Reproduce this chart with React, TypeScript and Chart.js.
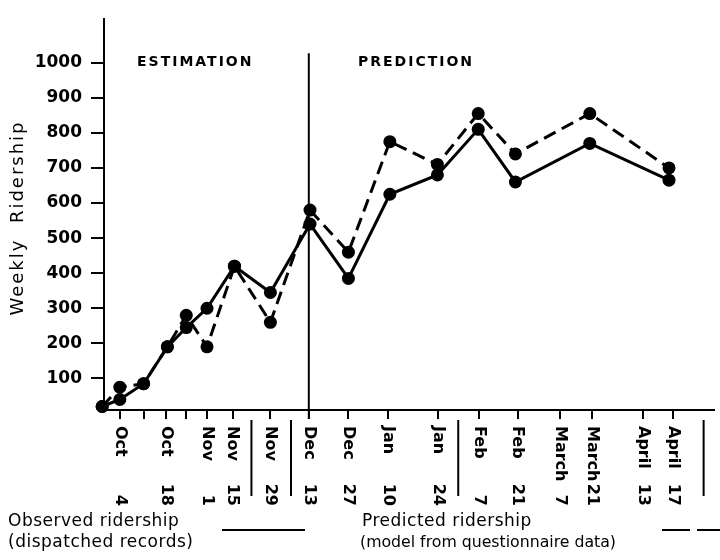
import React, { useEffect, useRef } from 'react';
import { Chart, registerables } from 'chart.js';

Chart.register(...registerables);

// ---- data ----
const tickMonths = ['Oct', 'Oct', 'Oct', 'Oct', 'Nov', 'Nov', 'Nov', 'Dec', 'Dec', 'Jan', 'Jan', 'Feb', 'Feb', 'March', 'March', 'April', 'April'];
const tickDays = ['4', '11', '18', '25', '1', '15', '29', '13', '27', '10', '24', '7', '21', '7', '21', '13', '17'];
const tickLabeled = [true, false, true, false, true, true, true, true, true, true, true, true, true, true, true, true, true];
// positions of the weekly ticks along the drawn (irregular) time axis, axis units 0-100
const tickPos = [2.68, 6.49, 10.23, 13.47, 16.88, 21.1, 27.27, 33.6, 40.1, 46.59, 54.87, 61.53, 67.86, 74.84, 80.03, 88.47, 93.34];
// group separators under the axis (axis units)
const separatorPos = [24.19, 30.68, 58.12, 98.38];
// the estimation / prediction boundary (Dec 13)
const boundaryPos = 33.6;

const pointPos = [-0.3, 2.6, 6.5, 10.4, 13.5, 16.9, 21.4, 27.3, 33.8, 40.1, 46.9, 54.7, 61.4, 67.5, 79.7, 92.7];
const observed = [20, 40, 85, 190, 245, 300, 420, 345, 540, 385, 625, 680, 810, 660, 770, 665];
const predicted = [20, 75, 85, 190, 280, 190, 420, 260, 580, 460, 775, 710, 855, 740, 855, 700];

const yTicks = [100, 200, 300, 400, 500, 600, 700, 800, 900, 1000];

const yTitle = 'Weekly  Ridership';
const regionLeft = 'ESTIMATION';
const regionRight = 'PREDICTION';
const legendObserved = ['Observed ridership', '(dispatched records)'];
const legendPredicted = ['Predicted ridership', '(model from questionnaire data)'];

const FONT = '"DejaVu Sans", sans-serif';

const overlayPlugin = {
  id: 'overlay',
  afterDraw(chart: any) {
    const ctx = chart.ctx as CanvasRenderingContext2D;
    const xs = chart.scales.x;
    const ys = chart.scales.y;
    const bottom = chart.chartArea.bottom;
    ctx.save();
    ctx.fillStyle = '#000';
    ctx.strokeStyle = '#000';

    // boundary line
    const bx = xs.getPixelForValue(boundaryPos);
    ctx.lineWidth = 2;
    ctx.beginPath();
    ctx.moveTo(bx, ys.getPixelForValue(1027));
    ctx.lineTo(bx, bottom + 9);
    ctx.stroke();

    // separators below axis
    separatorPos.forEach((p) => {
      const sx = xs.getPixelForValue(p);
      ctx.beginPath();
      ctx.moveTo(sx, bottom + 10);
      ctx.lineTo(sx, bottom + 86);
      ctx.stroke();
    });

    // region texts
    (ctx as any).letterSpacing = '2px';
    ctx.font = `bold 14px ${FONT}`;
    ctx.textBaseline = 'middle';
    ctx.textAlign = 'left';
    ctx.fillText(regionLeft, 137, 62);
    ctx.fillText(regionRight, 358, 62);

    // y title
    ctx.font = `18px ${FONT}`;
    ctx.save();
    ctx.translate(18, 218);
    ctx.rotate(-Math.PI / 2);
    ctx.textAlign = 'center';
    ctx.fillText(yTitle, 0, 0);
    ctx.restore();
    (ctx as any).letterSpacing = '0px';

    // x tick labels (rotated clockwise)
    ctx.font = `bold 16px ${FONT}`;
    tickPos.forEach((p, i) => {
      if (!tickLabeled[i]) return;
      const px = xs.getPixelForValue(p);
      ctx.save();
      ctx.translate(px, bottom + 16);
      ctx.rotate(Math.PI / 2);
      ctx.textAlign = 'left';
      ctx.fillText(tickMonths[i], 0, 0);
      ctx.restore();
      ctx.save();
      ctx.translate(px, bottom + 96);
      ctx.rotate(Math.PI / 2);
      ctx.textAlign = 'right';
      ctx.fillText(tickDays[i], 0, 0);
      ctx.restore();
    });

    // legend
    ctx.font = `17px ${FONT}`;
    (ctx as any).letterSpacing = '0.5px';
    ctx.textAlign = 'left';
    ctx.fillText(legendObserved[0], 8, 522);
    ctx.fillText(legendObserved[1], 8, 543);
    ctx.fillText(legendPredicted[0], 362, 522);
    (ctx as any).letterSpacing = '0px';
    ctx.font = `16px ${FONT}`;
    ctx.fillText(legendPredicted[1], 360, 543, 256);

    ctx.lineWidth = 2;
    ctx.beginPath();
    ctx.moveTo(222, 530);
    ctx.lineTo(305, 530);
    ctx.stroke();
    ctx.setLineDash([28, 7]);
    ctx.beginPath();
    ctx.moveTo(662, 530);
    ctx.lineTo(720, 530);
    ctx.stroke();
    ctx.setLineDash([]);

    ctx.restore();
  },
};

export default function App() {
  const ref = useRef<HTMLCanvasElement>(null);

  useEffect(() => {
    if (!ref.current) return;
    const chart = new Chart(ref.current, {
      type: 'line',
      data: {
        datasets: [
          {
            label: 'Observed ridership',
            data: pointPos.map((x, i) => ({ x, y: observed[i] })),
            borderColor: '#000',
            backgroundColor: '#000',
            borderWidth: 3,
            pointRadius: 6.5,
            pointBackgroundColor: '#000',
            pointBorderWidth: 0,
            tension: 0,
            clip: false as any,
          },
          {
            label: 'Predicted ridership',
            data: pointPos.map((x, i) => ({ x, y: predicted[i] })),
            borderColor: '#000',
            backgroundColor: '#000',
            borderWidth: 3,
            borderDash: [13, 7],
            pointRadius: 6.5,
            pointBackgroundColor: '#000',
            pointBorderWidth: 0,
            tension: 0,
            clip: false as any,
          },
        ],
      },
      options: {
        animation: false,
        responsive: false,
        layout: { padding: { top: 8, left: 0, right: 0, bottom: 0 } },
        plugins: {
          legend: { display: false },
          title: { display: false },
          tooltip: { enabled: false },
        },
        scales: {
          x: {
            type: 'linear',
            min: 0,
            max: 100,
            afterBuildTicks: (s: any) => {
              s.ticks = tickPos.map((v) => ({ value: v }));
            },
            afterFit: (s: any) => {
              s.height = 150;
            },
            ticks: { display: false },
            grid: { drawOnChartArea: false, drawTicks: true, tickLength: 9, color: '#000', lineWidth: 2 },
            border: { display: true, color: '#000', width: 2 },
          },
          y: {
            type: 'linear',
            min: 10,
            max: 1124,
            afterBuildTicks: (s: any) => {
              s.ticks = yTicks.map((v) => ({ value: v }));
            },
            afterFit: (s: any) => {
              s.width = 104;
            },
            ticks: {
              color: '#000',
              font: { family: FONT, size: 17, weight: 'bold' },
              padding: 9,
              autoSkip: false,
              callback: (v: any) => String(v),
            },
            grid: { drawOnChartArea: false, drawTicks: true, tickLength: 13, color: '#000', lineWidth: 2 },
            border: { display: true, color: '#000', width: 2 },
          },
        },
      },
      plugins: [overlayPlugin],
    });
    return () => chart.destroy();
  }, []);

  return (
    <canvas
      ref={ref}
      width={720}
      height={560}
      style={{ position: 'absolute', left: 0, top: 0, width: 720, height: 560, background: '#fff' }}
    />
  );
}
